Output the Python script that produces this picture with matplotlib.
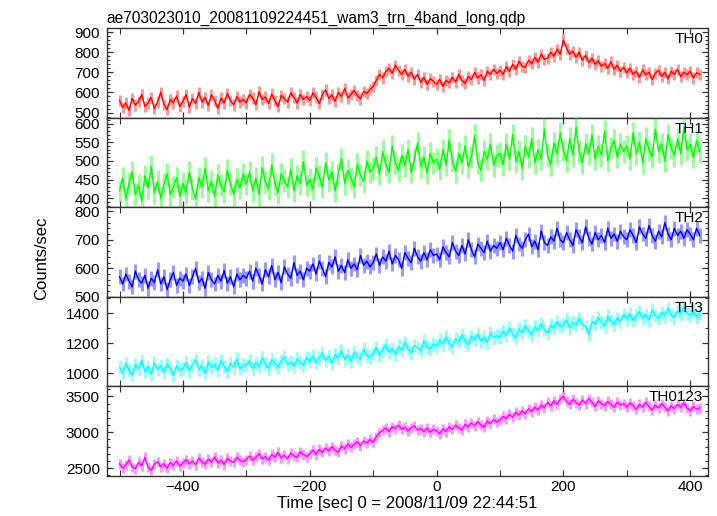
import numpy as np
import matplotlib
matplotlib.use("Agg")
import matplotlib.pyplot as plt
from matplotlib.ticker import MultipleLocator

plt.rcParams['font.family'] = ['Liberation Sans', 'DejaVu Sans']

title = "ae703023010_20081109224451_wam3_trn_4band_long.qdp"
xlabel = "Time [sec] 0 = 2008/11/09 22:44:51"
ylabel = "Counts/sec"

# time grid of the light curves (sec), 5 s bins
t_start = -500
t_step = 5

th0 = [560, 525, 548, 512, 570, 538, 555, 590, 530, 548, 575, 520, 552, 601, 540, 515, 565, 548, 582, 530,
       555, 590, 528, 570, 545, 600, 552, 575, 535, 588, 560, 520, 572, 548, 595, 560, 538, 580, 552, 565,
       548, 590, 572, 540, 603, 565, 578, 545, 592, 560, 530, 585, 570, 552, 598, 575, 548, 590, 565, 580,
       560, 598, 575, 545, 590, 612, 570, 588, 556, 600, 580, 620, 572, 590, 610, 585, 568, 605, 595, 615,
       630, 660, 690, 672, 705, 720, 695, 735, 710, 690, 715, 680, 700, 665, 690, 650, 675, 640, 668, 655,
       640, 665, 630, 660, 648, 675, 652, 690, 660, 645, 680, 665, 700, 672, 688, 660, 705, 690, 715, 695,
       710, 690, 728, 705, 740, 715, 755, 730, 725, 760, 742, 775, 750, 790, 765, 770, 800, 780, 815, 790,
       860, 820, 790, 805, 775, 800, 760, 785, 748, 770, 740, 758, 730, 745, 720, 752, 715, 735, 705, 725,
       698, 720, 690, 705, 675, 712, 688, 700, 665, 695, 710, 680, 700, 668, 705, 690, 715, 678, 700, 688,
       705, 672, 698, 690]

th1 = [420, 455, 398, 440, 470, 410, 435, 392, 460, 428, 485, 415, 445, 400, 438, 465, 410, 430, 455, 405,
       440, 415, 470, 425, 398, 455, 430, 480, 420, 445, 405, 462, 435, 418, 475, 440, 410, 450, 428, 465,
       438, 470, 420, 455, 410, 482, 445, 425, 490, 440, 415, 465, 448, 430, 478, 420, 460, 440, 498, 435,
       450, 425, 480, 460, 430, 495, 448, 470, 420, 465, 505, 440, 475, 455, 430, 490, 462, 445, 500, 470,
       480, 510, 465, 525, 490, 470, 540, 495, 475, 515, 488, 530, 470, 505, 548, 485, 510, 468, 520, 495,
       505, 478, 530, 490, 555, 500, 472, 520, 495, 540, 485, 510, 568, 495, 475, 525, 505, 545, 488, 515,
       520, 490, 545, 505, 570, 498, 525, 480, 540, 510, 560, 495, 530, 505, 585, 515, 490, 548, 520, 575,
       530, 500, 560, 515, 590, 525, 495, 545, 520, 570, 505, 540, 515, 580, 500, 535, 555, 510, 545, 525,
       540, 505, 575, 520, 550, 495, 560, 530, 510, 585, 525, 545, 500, 570, 535, 515, 560, 520, 590, 530,
       545, 510, 555, 525]

th2 = [570, 545, 580, 555, 535, 590, 560, 548, 575, 530, 565, 550, 595, 545, 570, 525, 560, 585, 540, 565,
       555, 580, 540, 570, 600, 550, 565, 530, 585, 560, 545, 575, 555, 592, 548, 570, 535, 580, 560, 575,
       565, 590, 555, 600, 575, 545, 595, 570, 610, 560, 585, 550, 605, 580, 565, 620, 575, 590, 560, 600,
       590, 615, 580, 625, 600, 570, 620, 605, 640, 590, 610, 585, 630, 600, 615, 595, 645, 610, 625, 605,
       620, 650, 610, 640, 625, 660, 615, 645, 630, 600, 655, 635, 620, 670, 640, 625, 655, 630, 665, 645,
       650, 630, 675, 655, 640, 690, 660, 645, 680, 650, 700, 665, 640, 685, 670, 655, 695, 660, 680, 670,
       690, 665, 705, 680, 660, 715, 685, 670, 700, 720, 675, 695, 665, 730, 690, 680, 710, 695, 740, 700,
       690, 725, 700, 680, 735, 710, 690, 745, 705, 685, 725, 700, 715, 690, 740, 705, 720, 695, 730, 710,
       700, 735, 715, 690, 745, 720, 705, 750, 715, 695, 730, 710, 760, 720, 700, 740, 715, 730, 705, 735,
       720, 700, 740, 715]

th3 = [1040, 1000, 1065, 1020, 990, 1055, 1030, 1085, 1010, 1045, 995, 1070, 1025, 1050, 1005, 1060, 1035, 985, 1050, 1020,
       1030, 1070, 1015, 1055, 1090, 1025, 1050, 1000, 1075, 1040, 1060, 1020, 1085, 1045, 1010, 1065, 1040, 1095, 1030, 1055,
       1050, 1085, 1030, 1070, 1045, 1100, 1060, 1035, 1090, 1065, 1040, 1080, 1110, 1055, 1075, 1045, 1095, 1070, 1050, 1105,
       1080, 1115, 1070, 1100, 1135, 1085, 1110, 1065, 1125, 1100, 1150, 1090, 1120, 1080, 1140, 1110, 1095, 1160, 1120, 1105,
       1130, 1170, 1120, 1155, 1190, 1140, 1165, 1125, 1180, 1150, 1205, 1160, 1135, 1185, 1170, 1150, 1215, 1175, 1160, 1195,
       1180, 1220, 1195, 1240, 1200, 1175, 1230, 1210, 1255, 1215, 1190, 1245, 1225, 1260, 1215, 1240, 1205, 1270, 1235, 1250,
       1240, 1280, 1255, 1300, 1260, 1235, 1295, 1270, 1315, 1280, 1255, 1310, 1285, 1330, 1290, 1265, 1320, 1300, 1340, 1310,
       1320, 1355, 1300, 1340, 1320, 1365, 1330, 1310, 1260, 1345, 1325, 1370, 1340, 1315, 1380, 1350, 1325, 1365, 1345, 1390,
       1360, 1395, 1350, 1380, 1410, 1365, 1390, 1355, 1420, 1385, 1365, 1405, 1380, 1430, 1390, 1370, 1415, 1395, 1440, 1400,
       1385, 1415, 1370, 1400]

th0123 = [2560, 2500, 2545, 2610, 2520, 2490, 2580, 2535, 2650, 2510, 2470, 2555, 2590, 2520, 2560, 2500, 2575, 2540, 2600, 2530,
          2570, 2620, 2560, 2600, 2545, 2640, 2590, 2555, 2625, 2580, 2660, 2570, 2610, 2550, 2635, 2600, 2580, 2650, 2610, 2590,
          2620, 2670, 2610, 2650, 2700, 2630, 2660, 2610, 2690, 2650, 2720, 2640, 2680, 2630, 2710, 2670, 2650, 2730, 2690, 2660,
          2700, 2750, 2690, 2760, 2720, 2780, 2740, 2800, 2750, 2720, 2810, 2770, 2840, 2790, 2830, 2870, 2810, 2880, 2850, 2900,
          2860, 2940, 2990, 3030, 3060, 3010, 3080, 3050, 3100, 3040, 3070, 3020, 3060, 3090, 3030, 3050, 3010, 3060, 3000, 3040,
          3020, 2980, 3050, 3010, 3080, 3040, 3100, 3060, 3030, 3110, 3080, 3130, 3090, 3150, 3100, 3070, 3160, 3120, 3180, 3140,
          3170, 3220, 3190, 3250, 3210, 3280, 3240, 3300, 3260, 3330, 3290, 3350, 3310, 3380, 3340, 3420, 3370, 3440, 3390, 3460,
          3500, 3430, 3390, 3460, 3410, 3380, 3450, 3400, 3470, 3420, 3360, 3440, 3400, 3370, 3430, 3390, 3350, 3420, 3380, 3400,
          3350, 3410, 3370, 3320, 3390, 3350, 3420, 3360, 3310, 3380, 3340, 3400, 3350, 3300, 3370, 3330, 3390, 3350, 3410, 3340,
          3300, 3360, 3320, 3340]

# one error value per band
errors = [28, 30, 26, 45, 70]
names = ["TH0", "TH1", "TH2", "TH3", "TH0123"]
series = [th0, th1, th2, th3, th0123]
colors = ["#ff0000", "#00ff00", "#0000ff", "#00ffff", "#ff00ff"]
ylims = [(475, 920), (376, 616), (500, 814), (912, 1508), (2390, 3640)]
major = [100, 50, 100, 200, 500]
minor = [20, 10, 20, 100, 100]

fig, axs = plt.subplots(5, 1, sharex=True, figsize=(7.17, 5.16), dpi=100)
fig.subplots_adjust(left=0.149, right=0.9874, top=0.9457, bottom=0.0775, hspace=0)

for i, ax in enumerate(axs):
    y = np.array(series[i])
    t = t_start + t_step * np.arange(len(y))
    eb = ax.errorbar(t, y, yerr=errors[i], color=colors[i], ecolor=colors[i], elinewidth=2.2,
                     linewidth=1.0, capsize=0, zorder=3)
    # lighter error bars like the qdp plot
    eb[2][0].set_alpha(0.4)
    ax.set_ylim(*ylims[i])
    ax.yaxis.set_major_locator(MultipleLocator(major[i]))
    ax.yaxis.set_minor_locator(MultipleLocator(minor[i]))
    ax.text(0.992, 0.955, names[i], transform=ax.transAxes, ha='right', va='top',
            fontsize=11, zorder=5)
    ax.tick_params(which='both', direction='in', top=True, right=True,
                   labelsize=11, pad=5, color='#333333')
    ax.tick_params(which='major', length=4.5, width=0.9)
    ax.tick_params(which='minor', length=2.4, width=0.8)
    for s in ax.spines.values():
        s.set_linewidth(1.0)
        s.set_color('#333333')

axs[-1].set_xlim(-520, 428)
axs[-1].xaxis.set_major_locator(MultipleLocator(200))
axs[-1].xaxis.set_minor_locator(MultipleLocator(100))
for ax in axs:
    ax.tick_params(axis='x', which='minor', length=4.0)
    ax.tick_params(axis='x', which='major', length=4.5)
axs[-1].tick_params(axis='x', pad=3)

axs[0].set_title(title, loc='left', fontsize=11.2, pad=4)
axs[-1].set_xlabel(xlabel, fontsize=12, labelpad=1)
fig.text(0.058, 0.50, ylabel, rotation=90, ha='center', va='center', fontsize=12)

fig.savefig("out.png", dpi=100)
